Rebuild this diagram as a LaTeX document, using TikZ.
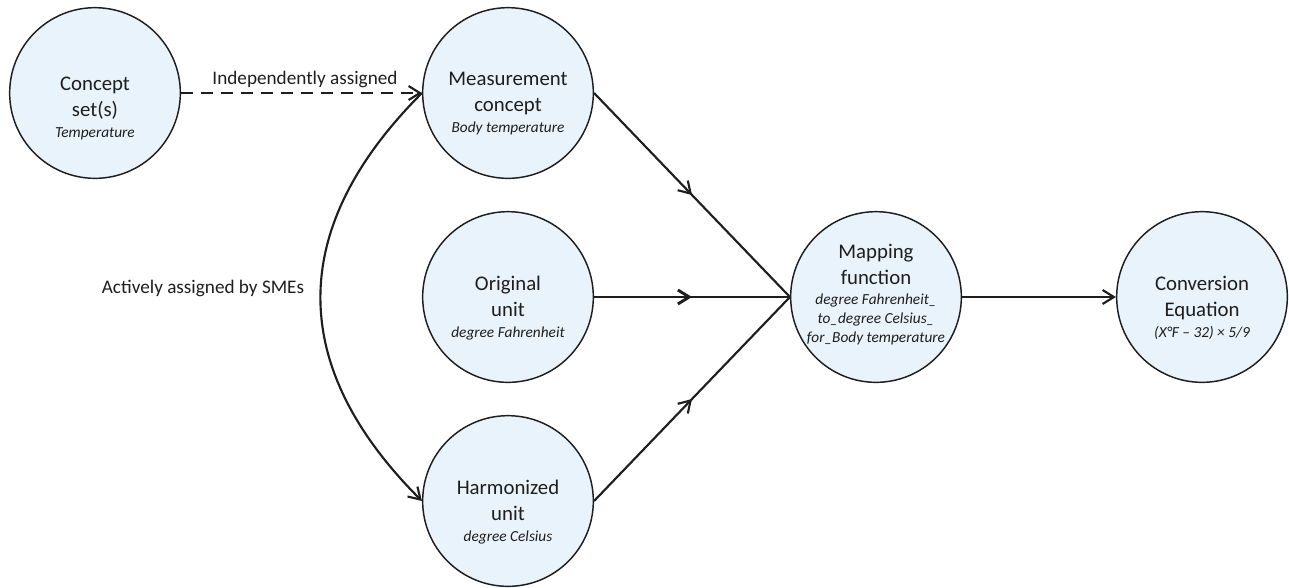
\documentclass[tikz,border=0pt]{standalone}
\usepackage{fontspec}
\setmainfont{Carlito}
\usetikzlibrary{arrows.meta,decorations.markings}
\definecolor{nodefill}{RGB}{232,243,251}
\definecolor{linec}{RGB}{30,30,30}
\newcommand\subt[1]{{\fontsize{11.5}{14}\selectfont\itshape #1}}
\begin{document}
\begin{tikzpicture}[x=0.75pt,y=-0.75pt,
  circ/.style={circle, draw=linec, fill=nodefill, line width=1.1pt, minimum size=128pt, inner sep=0pt},
  txt/.style={align=center, font=\fontsize{15.6}{19.5}\selectfont, text=linec, inner sep=0pt, anchor=base},
  lbl/.style={font=\fontsize{14.4}{17}\selectfont, text=linec, inner sep=0pt, anchor=base},
  conn/.style={draw=linec, line width=1.6pt},
  tipend/.style={-{Straight Barb[length=8.5pt,width=10.5pt]}},
  midarrow/.style={postaction={decorate}, decoration={markings, mark=at position 0.5 with {\arrow{Straight Barb[length=8.5pt,width=10.5pt]}}}}
]
\useasboundingbox (0,0) rectangle (1289,587);
% circles
\node[circ] (cs) at (95,93) {};
\node[circ] (meas) at (508,93) {};
\node[circ] (orig) at (508,297) {};
\node[circ] (harm) at (508,501) {};
\node[circ] (map) at (876,297) {};
\node[circ] (conv) at (1202,297) {};
% texts (anchor base = last line)
\node[txt] (cs-t) at (95,137) {Concept\\set(s)\\[-4pt]\subt{Temperature}};
\node[txt] (meas-t) at (508,132) {Measurement\\concept\\[-4pt]\subt{Body temperature}};
\node[txt] (orig-t) at (508,337) {Original\\unit\\[-4pt]\subt{degree Fahrenheit}};
\node[txt] (harm-t) at (508,541) {Harmonized\\unit\\[-4pt]\subt{degree Celsius}};
\node[txt] (map-t) at (876,342) {Mapping\\function\\[-4pt]\subt{degree Fahrenheit\_}\\[-5.5pt]\subt{to\_degree Celsius\_}\\[-5.5pt]\subt{for\_Body temperature}};
\node[txt] (conv-t) at (1202,337) {Conversion\\Equation\\[-4pt]\subt{(X°F – 32) × 5/9}};
% connectors
\draw[conn, tipend, dash pattern=on 9pt off 6pt] (cs.east) -- (meas.west);
\draw[conn, midarrow] (meas.east) -- (map.west);
\draw[conn, midarrow, line width=2.2pt] (orig.east) -- (map.west);
\draw[conn, midarrow] (harm.east) -- (map.west);
\draw[conn, tipend] (map.east) -- (conv.west);
\draw[conn, tipend] (meas.west) to[out=225, in=135, looseness=1.2] (harm.west);
% labels
\node[lbl] (ind) at (305,84) {Independently assigned};
\node[lbl] (act) at (203,293) {Actively assigned by SMEs};
\end{tikzpicture}
\end{document}
